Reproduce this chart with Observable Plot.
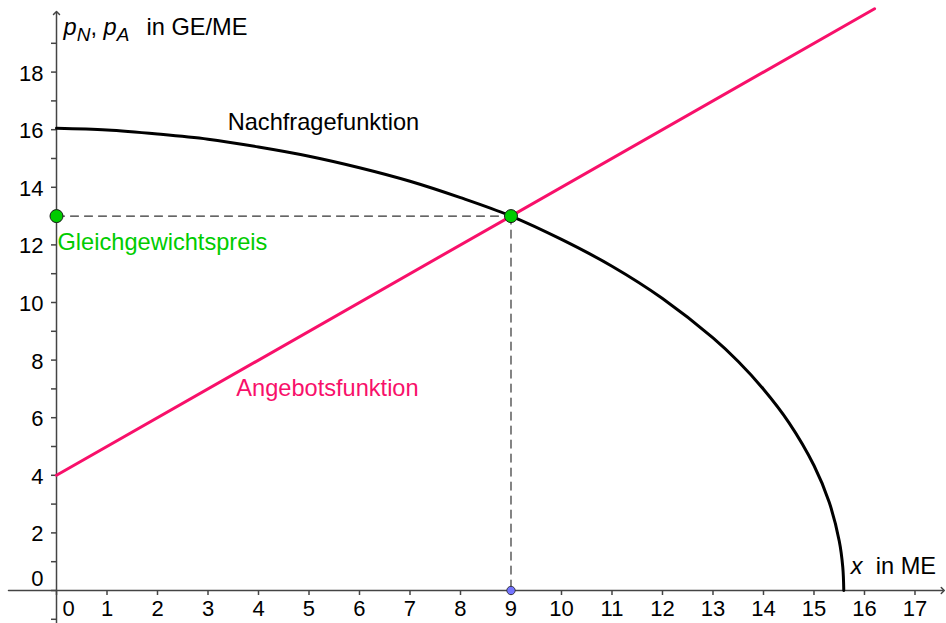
<!DOCTYPE html>
<html><head><meta charset="utf-8">
<script src="https://cdn.jsdelivr.net/npm/d3@7"></script>
<script src="https://cdn.jsdelivr.net/npm/@observablehq/plot@0.6"></script>
<style>body{margin:0;background:#fff} svg{display:block}</style>
</head><body><div id="chart"></div>
<script>
// Nachfragefunktion
const demandX = [0, 1, 2, 3, 4, 5, 6, 7, 8, 9, 10, 11, 12, 13, 13.5, 14, 14.5, 15, 15.3, 15.5, 15.57, 15.59];
const demandP = [16.05, 15.99, 15.85, 15.67, 15.40, 15.08, 14.68, 14.21, 13.64, 13.0, 12.19, 11.26, 10.14, 8.77, 7.95, 6.99, 5.84, 4.34, 3.07, 1.72, 0.81, 0];
// Angebotsfunktion
const supplyX = [0, 16.2];
const supplyP = [4, 20.2];
// Gleichgewicht
const eqX = 9, eqP = 13;
// ticks
const xTicks = [0,1,2,3,4,5,6,7,8,9,10,11,12,13,14,15,16,17];
const yTicks = [-1,0,1,2,3,4,5,6,7,8,9,10,11,12,13,14,15,16,17,18,19];
const yLabels = [2,4,6,8,10,12,14,16,18];
const xAxisExtent = [-0.95, 17.55];
const yAxisExtent = [-1.15, 20.05];

const W = 946, H = 623;
const xDomain = [-1.109, 17.624], yDomain = [-1.146, 20.486];
const pxX = (xDomain[1]-xDomain[0]) / W, pxY = (yDomain[1]-yDomain[0]) / H;
const font = "'Liberation Sans', Arial, sans-serif";
const axisColor = "#444";
const pink = "#f8106a", green = "#00cc00";
const tickFont = 22, labelFont = 23.6;

const demand = demandX.map((x, i) => ({x, y: demandP[i]}));
const supply = supplyX.map((x, i) => ({x, y: supplyP[i]}));

const plot = Plot.plot({
  width: W, height: H,
  marginTop: 0, marginRight: 0, marginBottom: 0, marginLeft: 0,
  x: {domain: xDomain, axis: null},
  y: {domain: yDomain, axis: null},
  style: {fontFamily: font, background: "#fff", overflow: "visible"},
  marks: [
    // axes
    Plot.line(xAxisExtent.map(x => ({x, y: 0})), {x: "x", y: "y", stroke: axisColor, strokeWidth: 1.5, markerEnd: "arrow"}),
    Plot.line(yAxisExtent.map(y => ({x: 0, y})), {x: "x", y: "y", stroke: axisColor, strokeWidth: 1.5, markerEnd: "arrow"}),
    Plot.ruleX(xTicks, {x: d => d, y1: 0, y2: -5 * pxY, stroke: axisColor, strokeWidth: 1.5}),
    Plot.ruleY(yTicks, {y: d => d, x1: -5 * pxX, x2: 0, stroke: axisColor, strokeWidth: 1.5}),
    Plot.text(xTicks.filter(d => d !== 0), {x: d => d, y: 0, dy: 18, text: d => String(d), fontSize: tickFont, fill: "#000", textAnchor: "middle"}),
    Plot.text([0], {x: d => d, y: 0, dx: 12, dy: 18, text: d => String(d), fontSize: tickFont, fill: "#000", textAnchor: "middle"}),
    Plot.text(yLabels, {x: 0, y: d => d, dx: -13, dy: 1.5, text: d => String(d), fontSize: tickFont, fill: "#000", textAnchor: "end"}),
    Plot.text([0], {x: 0, y: d => d, dx: -13, dy: -11.5, text: d => String(d), fontSize: tickFont, fill: "#000", textAnchor: "end"}),
    // dashed guides
    Plot.line([{x: 0, y: eqP}, {x: eqX, y: eqP}], {x: "x", y: "y", stroke: "#333", strokeWidth: 1.2, strokeDasharray: "8,6"}),
    Plot.line([{x: eqX, y: eqP}, {x: eqX, y: 0}], {x: "x", y: "y", stroke: "#333", strokeWidth: 1.2, strokeDasharray: "8,6"}),
    // curves
    Plot.line(demand, {x: "x", y: "y", stroke: "#000", strokeWidth: 3, curve: "catmull-rom"}),
    Plot.line(supply, {x: "x", y: "y", stroke: pink, strokeWidth: 3}),
    // labels
    Plot.text(["Nachfragefunktion"], {x: 3.39, y: 16.25, text: d => d, textAnchor: "start", fontSize: labelFont, fill: "#000"}),
    Plot.text(["Angebotsfunktion"], {x: 3.56, y: 7.01, text: d => d, textAnchor: "start", fontSize: labelFont, fill: pink}),
    Plot.text(["Gleichgewichtspreis"], {x: 0.02, y: 12.09, text: d => d, textAnchor: "start", fontSize: labelFont, fill: green}),
    // points
    Plot.dot([{x: 0, y: eqP}, {x: eqX, y: eqP}], {x: "x", y: "y", r: 6.5, fill: green, stroke: "#1a1a1a", strokeWidth: 1}),
    Plot.dot([{x: eqX, y: 0}], {x: "x", y: "y", r: 4.2, fill: "#7474ff", stroke: "#222", strokeWidth: 0.8})
  ]
});

const X = plot.scale("x"), Y = plot.scale("y");
const svg = d3.select(plot);
const t = svg.append("text").attr("x", X.apply(0.15)).attr("y", Y.apply(19.27))
  .attr("text-anchor", "start")
  .attr("font-size", labelFont).attr("font-family", font).attr("fill", "#000");
t.append("tspan").attr("font-style", "italic").text("p");
t.append("tspan").attr("font-style", "italic").attr("font-size", 19).attr("dy", 6).text("N");
t.append("tspan").attr("dy", -6).text(",\u00a0");
t.append("tspan").attr("font-style", "italic").text("p");
t.append("tspan").attr("font-style", "italic").attr("font-size", 19).attr("dy", 6).text("A");
t.append("tspan").attr("dy", -6).attr("dx", 4).text("\u00a0\u00a0in GE/ME");

const t2 = svg.append("text").attr("x", X.apply(15.74)).attr("y", Y.apply(0.556))
  .attr("text-anchor", "start")
  .attr("font-size", labelFont).attr("font-family", font).attr("fill", "#000");
t2.append("tspan").attr("font-style", "italic").text("x");
t2.append("tspan").text("\u00a0\u00a0in ME");

document.getElementById("chart").appendChild(plot);
</script>
</body></html>
